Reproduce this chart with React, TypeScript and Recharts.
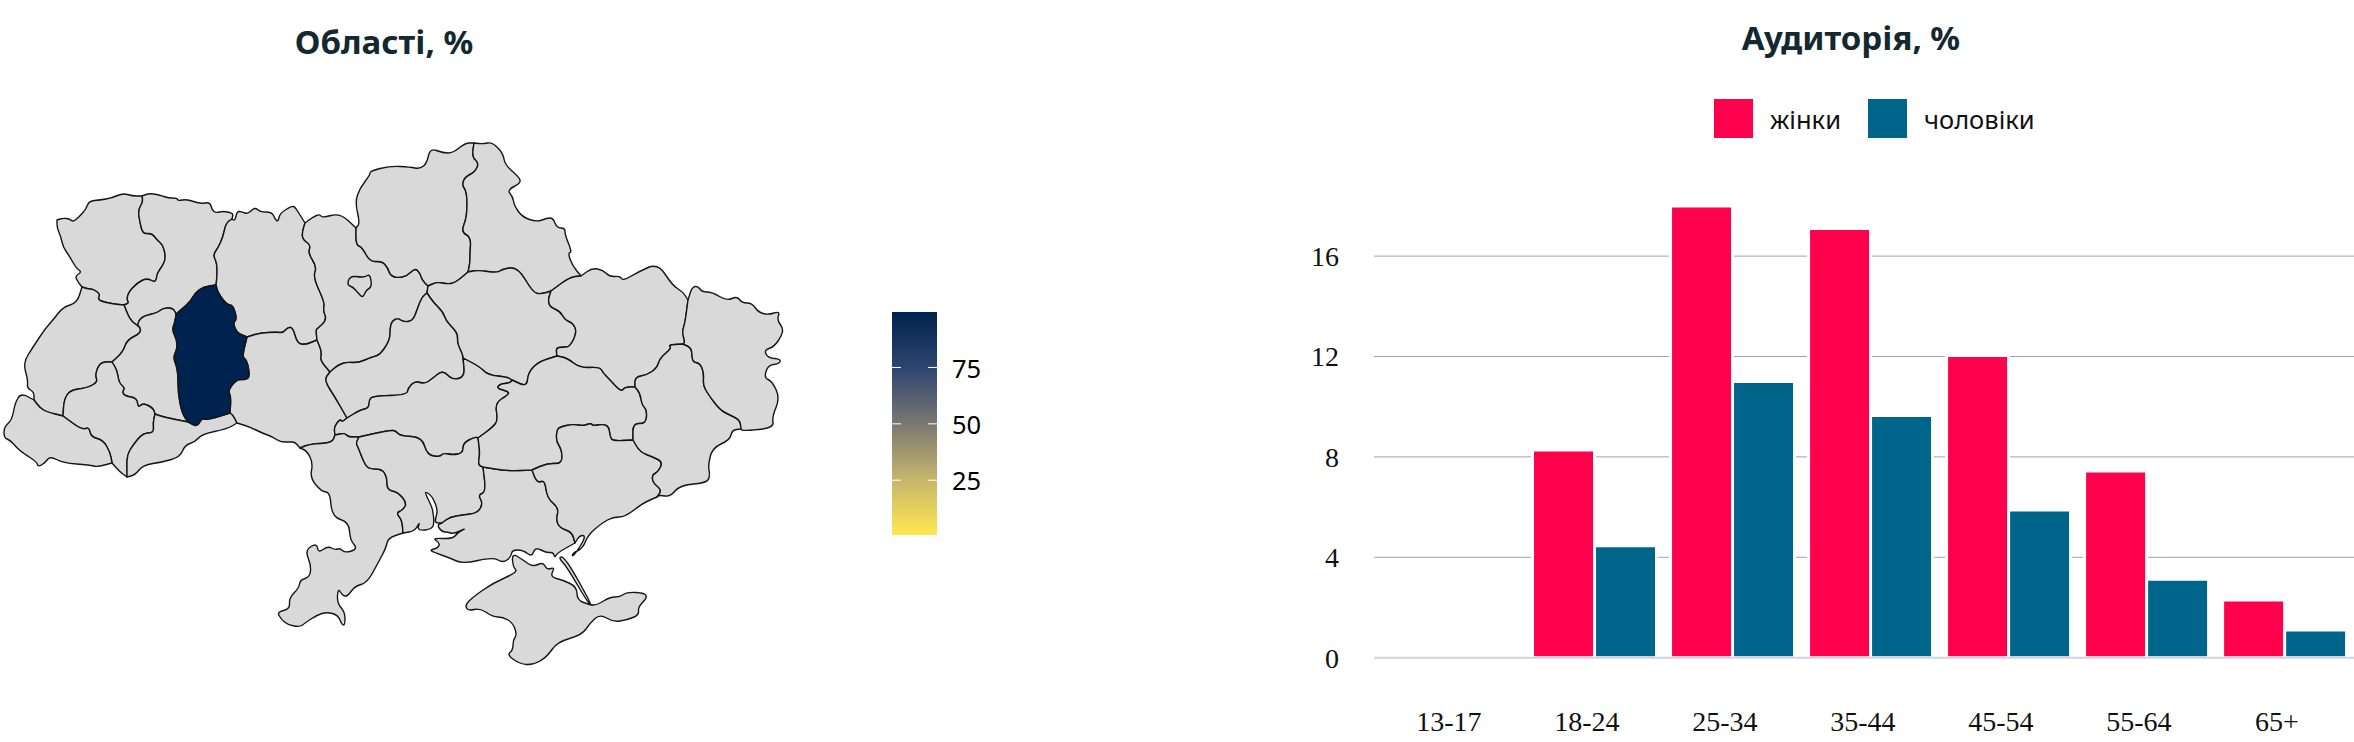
import React from 'react';
import {
  BarChart, Bar, XAxis, YAxis, CartesianGrid, Legend, ReferenceLine,
  ScatterChart, Scatter,
} from 'recharts';

type Pt = number[];

// audience chart
const ageGroups = ['13-17', '18-24', '25-34', '35-44', '45-54', '55-64', '65+'];
const women = [null, 8.27, 18.0, 17.1, 12.04, 7.44, 2.3];
const men = [null, 4.46, 11.0, 9.65, 5.88, 3.13, 1.1];
const audienceTicks = [0, 4, 8, 12, 16];

// colour bar
const scaleTicks = [25, 50, 75];
const scaleMin = 0.7;
const scaleMax = 99.6;

// borders between the oblasts
const volynN: Pt[] = [[57,220],[63,218],[70,219],[73,222],[80,216],[86,209],[89,201],[100,200],[112,198],[123,193],[132,196],[142,196]];
const volynRivne: Pt[] = [[142,196],[143,202],[138,210],[140,223],[143,234],[152,233],[157,240],[163,245],[166,258],[162,267],[157,273],[156,283],[147,278],[137,283],[128,293],[127,300],[129,303],[124,305]];
const volynLviv: Pt[] = [[124,305],[113,304],[100,301],[98,298],[100,294],[93,289],[88,289],[82,287]];
const volynW: Pt[] = [[82,287],[78,282],[75,276],[82,272],[76,268],[70,257],[63,247],[61,237],[57,228],[57,220]];
const rivneN: Pt[] = [[142,196],[150,193],[163,196],[168,198],[177,198],[178,201],[187,199],[200,204],[210,202],[212,210],[216,213],[223,211],[232,213],[233,215],[232,219]];
const rivneZhyt: Pt[] = [[232,219],[226,223],[223,237],[218,248],[213,255],[217,263],[217,277],[216,285]];
const rivneNavy: Pt[] = [[216,285],[203,287],[195,293],[190,302],[176,314]];
const rivneTern: Pt[] = [[176,314],[173,308],[163,308],[157,313],[143,316],[138,322],[138,326]];
const rivneLviv: Pt[] = [[138,326],[130,320],[124,305]];
const lvivTern: Pt[] = [[138,326],[140,327],[141,333],[127,340],[123,352],[112,362]];
const lvivFrank: Pt[] = [[112,362],[100,362],[95,375],[98,382],[87,388],[70,390],[64,400],[63,416]];
const lvivZak: Pt[] = [[63,416],[47,412],[40,408],[34,400]];
const lvivW: Pt[] = [[34,400],[34,392],[27,388],[28,380],[23,363],[33,347],[45,329],[53,320],[63,307],[77,303],[82,287]];
const zakW: Pt[] = [[34,400],[21,393],[15,403],[12,420],[4,427],[4,438],[10,440],[17,448],[23,453],[37,462],[38,467],[45,463],[50,456],[63,463],[90,465],[97,467],[112,463]];
const zakFrank: Pt[] = [[63,416],[82,430],[89,427],[91,437],[103,440],[110,452],[112,463]];
const frankCoast: Pt[] = [[112,463],[120,472],[127,477]];
const frankTern: Pt[] = [[112,362],[117,370],[119,383],[125,388],[122,392],[125,396],[137,398],[138,408],[143,403],[153,408],[155,414]];
const frankChern: Pt[] = [[155,414],[153,423],[154,433],[143,433],[133,445],[127,455],[127,467],[127,477]];
const ternChern: Pt[] = [[155,414],[163,417],[188,422]];
const ternNavy: Pt[] = [[176,314],[175,322],[172,330],[177,340],[177,350],[173,357],[178,370],[178,393],[182,413],[188,422]];
const navyChern: Pt[] = [[188,422],[197,427],[202,418],[207,420],[230,413]];
const navyZhyt: Pt[] = [[216,285],[218,293],[227,305],[233,305],[237,319],[233,323],[237,333],[247,337]];
const navyVin: Pt[] = [[247,337],[242,357],[247,360],[250,377],[245,380],[237,379],[228,390],[231,397],[230,413]];
const chernVin: Pt[] = [[230,413],[233,415],[237,423]];
const chernCoast: Pt[] = [[127,477],[135,475],[143,465],[163,462],[180,457],[185,445],[195,442],[202,434],[227,429],[237,423]];
const vinCoast: Pt[] = [[237,423],[250,427],[262,433],[273,437],[280,442],[290,442],[295,442],[300,448]];
const vinOdesa: Pt[] = [[300,448],[310,444],[332,443],[335,435]];
const zhytN: Pt[] = [[232,219],[235,221],[237,211],[242,212],[248,214],[255,207],[260,212],[272,212],[275,219],[278,222],[280,213],[292,206],[295,207],[300,215],[305,223]];
const zhytKyiv: Pt[] = [[305,223],[302,233],[303,240],[311,245],[308,253],[317,267],[313,277],[325,303],[323,310],[327,320],[317,329],[316,330],[317,340]];
const zhytVin: Pt[] = [[247,337],[260,333],[277,332],[283,333],[288,327],[293,328],[297,343],[305,345],[317,340]];
const kyivVin: Pt[] = [[317,340],[322,352],[320,360],[330,372]];
const vinCherk: Pt[] = [[330,372],[324,380],[335,397],[347,418]];
const vinKir: Pt[] = [[347,418],[342,422],[340,419],[334,427],[335,435]];
const kirOdesa: Pt[] = [[335,435],[345,433],[348,437],[359,437]];
const kirMyk: Pt[] = [[359,437],[390,430],[396,431],[400,436],[422,437],[427,455],[440,457],[443,453],[453,455],[463,453],[463,443],[475,437],[478,438]];
const kirDnipro: Pt[] = [[478,438],[493,427],[498,420],[495,403],[508,395],[509,392],[503,390],[497,388],[500,384],[510,383],[512,380]];
const kirPoltava: Pt[] = [[512,380],[507,377],[488,375],[480,367],[463,358]];
const kirCherk: Pt[] = [[463,358],[465,377],[452,380],[443,370],[433,378],[425,384],[415,381],[408,388],[407,395],[373,396],[369,400],[369,408],[360,410],[347,418]];
const cherkPoltava: Pt[] = [[427,293],[433,302],[443,312],[446,321],[453,328],[458,335],[457,343],[462,353],[463,358]];
const kyivCherk: Pt[] = [[427,293],[422,297],[418,307],[413,321],[403,322],[398,318],[392,321],[390,328],[390,340],[380,355],[372,357],[358,363],[347,362],[338,365],[330,372]];
const kyivPoltava: Pt[] = [[428,286],[427,293]];
const kyivN: Pt[] = [[305,223],[313,217],[320,214],[322,218],[340,213],[356,228]];
const kyivChern: Pt[] = [[356,228],[356,245],[362,247],[370,262],[382,261],[388,268],[390,275],[397,278],[407,276],[415,268],[420,273],[422,280],[428,286]];
const chernihivN: Pt[] = [[356,228],[360,223],[355,202],[360,188],[370,175],[370,171],[390,166],[410,167],[420,169],[427,163],[430,148],[443,153],[453,153],[465,143],[474,143]];
const chernihivSumy: Pt[] = [[474,143],[472,157],[479,163],[475,172],[465,177],[462,185],[467,192],[467,217],[461,232],[471,237],[470,253],[470,263],[468,272]];
const chernihivPoltava: Pt[] = [[468,272],[455,283],[447,284],[437,282],[428,286]];
const sumyN: Pt[] = [[474,143],[483,144],[492,142],[503,153],[505,165],[519,177],[521,183],[507,190],[513,197],[514,205],[522,217],[537,222],[547,218],[553,218],[557,228],[565,228],[565,235],[572,252],[568,253],[572,265],[581,276]];
const sumyKharkiv: Pt[] = [[581,276],[570,277],[551,291]];
const sumyPoltava: Pt[] = [[551,291],[542,294],[533,293],[518,267],[503,269],[497,273],[478,270],[468,272]];
const kharkivN: Pt[] = [[581,276],[592,268],[603,270],[610,277],[620,276],[623,281],[638,272],[658,263],[672,285],[683,292],[688,300]];
const kharkivLuhansk: Pt[] = [[688,300],[685,323],[682,332],[685,342],[683,344]];
const kharkivDonetsk: Pt[] = [[683,344],[668,345],[672,348],[660,358],[657,368],[647,375],[635,377],[635,387]];
const kharkivDnipro: Pt[] = [[635,387],[625,387],[621,392],[610,380],[603,373],[600,367],[580,368],[567,358],[557,356]];
const kharkivPoltava: Pt[] = [[557,356],[556,348],[562,347],[570,347],[577,332],[573,323],[565,320],[560,311],[550,307],[548,300],[551,291]];
const poltavaDnipro: Pt[] = [[512,380],[527,387],[528,373],[538,362],[557,356]];
const dniproDonetsk: Pt[] = [[635,387],[640,393],[642,405],[647,410],[646,424],[633,423],[633,440]];
const dniproZap: Pt[] = [[633,440],[613,441],[610,437],[609,427],[603,424],[593,426],[591,423],[583,426],[573,424],[560,427],[557,430],[556,441],[562,450],[562,464],[548,463],[532,470]];
const dniproKherson: Pt[] = [[532,470],[507,471],[483,467]];
const dniproMyk: Pt[] = [[483,467],[478,465],[480,453],[478,438]];
const mykKherson: Pt[] = [[483,467],[486,492],[478,495],[483,503],[478,513],[463,515],[450,517],[442,523]];
const mykOdesa: Pt[] = [[359,437],[356,443],[358,447],[365,465],[370,469],[382,469],[387,477],[387,490],[398,492],[407,503],[403,510],[396,513],[402,520],[403,533]];
const mykCoast: Pt[] = [[403,533],[415,531],[420,521],[417,531],[433,529],[434,520],[433,513],[432,507],[425,493],[426,492],[432,496],[438,510],[435,520],[436,523],[442,523]];
const khersonCoast: Pt[] = [[442,523],[437,525],[442,532],[448,532],[453,534],[467,528],[458,532],[453,539],[432,538],[440,543],[438,548],[430,550],[433,552],[450,558],[463,564],[493,557],[503,563],[511,557],[512,550],[523,550],[532,557],[535,547],[547,553],[553,552],[555,558],[557,553],[575,543]];
const khersonZap: Pt[] = [[575,543],[572,532],[560,528],[556,520],[559,508],[547,498],[545,480],[537,483],[532,470]];
const zapCoast: Pt[] = [[575,543],[580,535],[586,536],[578,550],[572,557],[573,553],[583,548],[588,535],[602,523],[613,517],[625,517],[643,503],[657,497]];
const zapDonetsk: Pt[] = [[633,440],[640,452],[653,457],[663,462],[658,472],[652,475],[653,483],[662,490],[657,497]];
const donetskCoast: Pt[] = [[657,497],[660,495],[670,497],[680,485],[708,483],[710,473],[708,467],[712,448],[730,440],[732,430],[741,429]];
const donetskLuhansk: Pt[] = [[683,344],[692,348],[692,362],[700,363],[704,373],[703,385],[708,394],[720,410],[730,415],[740,420],[741,429]];
const luhanskOuter: Pt[] = [[688,300],[692,287],[698,286],[702,292],[712,292],[727,301],[737,296],[742,303],[752,303],[758,312],[768,315],[780,311],[777,320],[783,328],[782,335],[774,347],[764,350],[768,358],[781,359],[779,364],[768,365],[764,378],[772,381],[780,398],[772,417],[774,428],[743,431],[741,429]];
const odesaCoast: Pt[] = [[403,533],[388,538],[386,548],[378,563],[367,583],[355,586],[347,597],[342,595],[338,588],[337,603],[345,612],[345,625],[342,625],[338,615],[327,612],[317,615],[305,623],[300,627],[288,625],[281,619],[277,612],[290,609],[289,598],[299,588],[300,580],[310,577],[311,565],[305,550],[317,543],[318,553],[328,546],[335,550],[340,548],[345,553],[358,549],[350,540],[349,522],[332,517],[330,492],[322,492],[310,478],[313,463],[307,451],[300,448]];
const crimea: Pt[] = [[465,605],[473,597],[493,583],[518,572],[513,567],[512,553],[523,560],[533,567],[543,562],[547,570],[555,567],[550,577],[563,580],[577,587],[577,600],[590,605],[597,605],[610,597],[620,597],[627,592],[645,593],[647,598],[638,607],[639,615],[627,620],[613,622],[600,614],[590,623],[582,635],[557,642],[547,657],[533,665],[520,664],[507,655],[513,650],[513,640],[517,635],[513,623],[503,617],[493,617],[480,608],[468,611]];
const arabatSpit: Pt[] = [[558,557],[565,557],[592,605],[588,603],[567,567]];
const kyivCity: Pt[] = [[347,285],[350,276],[360,277],[365,277],[370,274],[372,287],[366,290],[363,298],[358,293],[353,287]];

const rev = (a: Pt[]) => [...a].reverse();

const oblasts: Pt[][] = [
  [...volynN, ...volynRivne, ...volynLviv, ...volynW],
  [...rivneN, ...rivneZhyt, ...rivneNavy, ...rivneTern, ...rivneLviv, ...rev(volynRivne)],
  [...rev(rivneLviv), ...lvivTern, ...lvivFrank, ...lvivZak, ...lvivW, ...rev(volynLviv)],
  [...rev(rivneTern), ...ternNavy, ...rev(ternChern), ...rev(frankTern), ...rev(lvivTern)],
  [...frankTern, ...frankChern, ...rev(frankCoast), ...rev(zakFrank), ...rev(lvivFrank)],
  [...rev(lvivZak), ...zakFrank, ...rev(zakW)],
  [...ternChern, ...navyChern, ...chernVin, ...rev(chernCoast), ...rev(frankChern)],
  [...zhytN, ...zhytKyiv, ...rev(zhytVin), ...rev(navyZhyt), ...rev(rivneZhyt)],
  [...zhytVin, ...kyivVin, ...vinCherk, ...vinKir, ...rev(vinOdesa), ...rev(vinCoast), ...rev(chernVin), ...rev(navyVin)],
  [...kyivN, ...kyivChern, ...kyivPoltava, ...kyivCherk, ...rev(kyivVin), ...rev(zhytKyiv)],
  [...chernihivN, ...chernihivSumy, ...chernihivPoltava, ...rev(kyivChern)],
  [...sumyN, ...sumyKharkiv, ...sumyPoltava, ...rev(chernihivSumy)],
  [...rev(chernihivPoltava), ...rev(sumyPoltava), ...rev(kharkivPoltava), ...rev(poltavaDnipro), ...kirPoltava, ...rev(cherkPoltava), ...rev(kyivPoltava)],
  [...kharkivN, ...kharkivLuhansk, ...kharkivDonetsk, ...kharkivDnipro, ...kharkivPoltava, ...rev(sumyKharkiv)],
  [...rev(kyivCherk), ...cherkPoltava, ...kirCherk, ...rev(vinCherk)],
  [...rev(kirCherk), ...rev(kirPoltava), ...rev(kirDnipro), ...rev(kirMyk), ...rev(kirOdesa), ...rev(vinKir)],
  [...vinOdesa, ...kirOdesa, ...mykOdesa, ...odesaCoast],
  [...kirMyk, ...rev(dniproMyk), ...mykKherson, ...rev(mykCoast), ...rev(mykOdesa)],
  [...rev(dniproKherson), ...rev(khersonZap), ...rev(khersonCoast), ...rev(mykKherson)],
  [...rev(kharkivDnipro), ...dniproDonetsk, ...dniproZap, ...dniproKherson, ...dniproMyk, ...kirDnipro, ...poltavaDnipro],
  [...rev(dniproZap), ...zapDonetsk, ...rev(zapCoast), ...khersonZap],
  [...rev(kharkivDonetsk), ...donetskLuhansk, ...rev(donetskCoast), ...rev(zapDonetsk), ...rev(dniproDonetsk)],
  [...luhanskOuter, ...rev(donetskLuhansk), ...rev(kharkivLuhansk)],
  crimea,
  arabatSpit,
  kyivCity,
];
const highlighted = [[...rev(rivneNavy), ...navyZhyt, ...navyVin, ...rev(navyChern), ...rev(ternNavy)]];

const audienceData = ageGroups.map((age, i) => ({ age, women: women[i], men: men[i] }));
const NAVY = '#00224e';
const TITLE_FONT = '"Noto Sans", sans-serif';

const noDot = () => null;

// rounded closed path through the midpoints, the traced corners look too sharp otherwise
const smoothPath = (pts: { x: number; y: number }[]) => {
  const mid = (a: any, b: any) => `${(a.x + b.x) / 2},${(a.y + b.y) / 2}`;
  const n = pts.length;
  let d = `M${mid(pts[n - 1], pts[0])}`;
  pts.forEach((p, i) => {
    d += `Q${p.x},${p.y} ${mid(p, pts[(i + 1) % n])}`;
  });
  return `${d}Z`;
};

// scatter gives us the projected points, we close them into a region
// (it hands the series fill over as stroke)
const regionOutline = (props: any) => (
  <path
    d={smoothPath(props.points.map((p: any) => ({ x: p.cx ?? p.x, y: p.cy ?? p.y })))}
    fill={props.stroke}
    stroke="#151515"
    strokeWidth={1.4}
    strokeLinejoin="round"
  />
);

const Region = (pts: Pt[], i: number, fill: string) => (
  <Scatter
    key={`${fill}-${i}`}
    data={pts.map(([x, y]) => ({ x, y }))}
    fill={fill}
    line={regionOutline}
    shape={noDot}
    isAnimationActive={false}
  />
);

const legendContent = ({ payload }: any) => (
  <div style={{ display: 'flex', fontFamily: TITLE_FONT, fontSize: 25.5, color: '#111' }}>
    {payload.map((item: any) => (
      <div key={item.value} style={{ display: 'flex', alignItems: 'center', marginRight: 27 }}>
        <span style={{ width: 39, height: 39, background: item.color, marginRight: 17, display: 'block' }} />
        <span>{item.value}</span>
      </div>
    ))}
  </div>
);

const titleStyle = (cx: number, top: number): React.CSSProperties => ({
  position: 'absolute',
  left: cx - 300,
  top,
  width: 600,
  textAlign: 'center',
  fontFamily: TITLE_FONT,
  fontWeight: 700,
  fontSize: 33,
  color: '#14282f',
  lineHeight: '40px',
});

export default function App() {
  return (
    <div style={{ position: 'absolute', left: 0, top: 0, width: 2354, height: 742, background: '#fff', overflow: 'hidden' }}>
      <div style={titleStyle(384, 22)}>Області, %</div>
      <div style={titleStyle(1851, 18)}>Аудиторія, %</div>

      <div style={{ position: 'absolute', left: 0, top: 0 }}>
        <ScatterChart width={820} height={742} margin={{ top: 0, right: 0, bottom: 0, left: 0 }}>
          <XAxis type="number" dataKey="x" domain={[0, 820]} hide />
          <YAxis type="number" dataKey="y" domain={[0, 742]} reversed hide />
          {oblasts.map((pts, i) => Region(pts, i, '#d9d9d9'))}
          {highlighted.map((pts, i) => Region(pts, i, NAVY))}
        </ScatterChart>
      </div>

      <div style={{ position: 'absolute', left: 892, top: 312 }}>
        <BarChart
          width={110}
          height={223}
          data={[{ name: 'scale', top: scaleMax }]}
          margin={{ top: 0, right: 0, bottom: 0, left: 0 }}
          barCategoryGap={0}
        >
          <defs>
            <linearGradient id="cividis" x1="0" y1="0" x2="0" y2="1">
              <stop offset="0%" stopColor="#00224e" />
              <stop offset="25%" stopColor="#2f4470" />
              <stop offset="50%" stopColor="#7a7872" />
              <stop offset="75%" stopColor="#c6b56c" />
              <stop offset="100%" stopColor="#ffe74f" />
            </linearGradient>
          </defs>
          <XAxis dataKey="name" hide />
          <YAxis
            orientation="right"
            width={65}
            domain={[scaleMin, scaleMax]}
            ticks={scaleTicks}
            axisLine={false}
            tickLine={false}
            tickMargin={9}
            tick={{ fontFamily: '"Noto Sans", sans-serif', fontSize: 25.5, fill: '#000', dy: 1 }}
          />
          <Bar dataKey="top" fill="url(#cividis)" isAnimationActive={false} />
          {scaleTicks.map((t) => (
            <ReferenceLine key={t} y={t} stroke="#fff" strokeDasharray="9 27 9" />
          ))}
        </BarChart>
      </div>

      <div style={{ position: 'absolute', left: 1290, top: 0 }}>
        <BarChart
          width={1064}
          height={742}
          data={audienceData}
          margin={{ top: 130.6, right: 0, bottom: 0, left: 0 }}
          barCategoryGap={6.65}
          barGap={0}
        >
          <CartesianGrid vertical={false} syncWithTicks stroke="#a0a0b4" />
          <XAxis
            dataKey="age"
            height={84.3}
            padding={{ left: 13.85, right: 0 }}
            axisLine={false}
            tickLine={false}
            tickMargin={47}
            interval={0}
            tick={{ fontFamily: '"Liberation Serif", serif', fontSize: 28, fill: '#111', dx: -8 }}
          />
          <YAxis
            width={84}
            domain={[0, 21]}
            ticks={audienceTicks}
            axisLine={false}
            tickLine={false}
            tickMargin={29}
            tick={{ fontFamily: '"Liberation Serif", serif', fontSize: 28, fill: '#111' }}
          />
          <ReferenceLine y={0} stroke="#d4d4de" strokeWidth={2} />
          <Legend
            layout="horizontal"
            verticalAlign="middle"
            align="center"
            content={legendContent}
            wrapperStyle={{ left: 424, top: 99, width: 'auto', height: 39 }}
          />
          <Bar dataKey="women" name="жінки" fill="#ff004d" stroke="#fff" strokeWidth={3} isAnimationActive={false} />
          <Bar dataKey="men" name="чоловіки" fill="#00658b" stroke="#fff" strokeWidth={3} isAnimationActive={false} />
        </BarChart>
      </div>
    </div>
  );
}
